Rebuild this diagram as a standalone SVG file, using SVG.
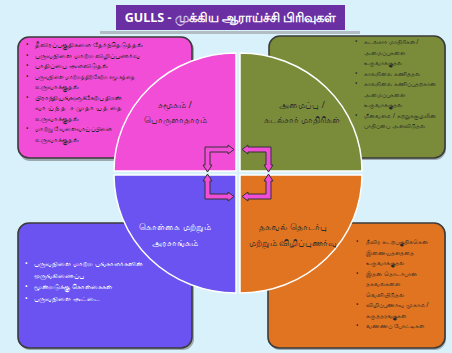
<svg xmlns="http://www.w3.org/2000/svg" width="452" height="353" viewBox="0 0 452 353">
<defs>
<style>
.bg{fill:#d8f1fb}
.box{stroke:#3b3b3b;stroke-width:1.6}
.sh{fill:#555;opacity:0.45}
.q{stroke:#fff;stroke-width:1.5}
.t{font-family:"Noto Sans","Liberation Sans",sans-serif;}
.bp text{font-size:6.6px;fill:#262626}
.bl text{font-size:6.3px;fill:#262626}
.bw text{font-size:7px;fill:#ffffff}
.ql{font-size:9px;text-anchor:middle;fill:#2b2b2b}
.qw{font-size:9px;text-anchor:middle;fill:#fff}
.arr{fill:#f04ed6;stroke:#333;stroke-width:1}
</style>
<polygon id="ar" class="arr" points="205,147 228,147 228,145 234,149.5 228,154 228,152 210,152 210,165 212,165 207.5,172 203,165 205,165"/>
</defs>
<rect class="bg" x="0" y="0" width="452" height="353"/>
<g id="title">
<rect x="100" y="31" width="260" height="3" fill="#8a8a8a" opacity="0.5"/>
<rect x="116" y="5" width="229" height="25" fill="#6a2fa2"/>
<text class="t" x="230.5" y="22" text-anchor="middle" font-size="12.5" font-weight="bold" fill="#fff">GULLS - முக்கிய ஆராய்ச்சி பிரிவுகள்</text>
</g>
<g id="box-social">
<rect class="sh" x="19" y="39" width="175" height="122" rx="11"/>
<rect class="box" x="18" y="37" width="174" height="121" rx="11" fill="#f24dd7"/>
<g class="t bp">
<text x="26" y="47">•</text><text x="35" y="47">தீவிரப்பகுதிகளை தேர்ந்தெடுத்தல்</text>
<text x="26" y="57.5">•</text><text x="35" y="57.5">பருவநிலை மாற்ற விழிப்புணர்வு</text>
<text x="26" y="68">•</text><text x="35" y="68">பாதிப்பை அளவிடுதல்</text>
<text x="26" y="78.5">•</text><text x="35" y="78.5" textLength="100" lengthAdjust="spacingAndGlyphs">பருவநிலை மாற்றத்திற்கேற்ற சமூகத்தை</text>
<text x="35" y="89">உருவாக்குதல்</text>
<text x="26" y="99.5">•</text><text x="35" y="99.5" textLength="87" lengthAdjust="spacing">பிராந்தியங்களுக்கேற்ப திறன்</text>
<text x="35" y="110" textLength="87" lengthAdjust="spacing">வாய்ந்த சமுதாயத்தை</text>
<text x="35" y="120.5">உருவாக்குதல்</text>
<text x="26" y="131">•</text><text x="35" y="131" textLength="77" lengthAdjust="spacingAndGlyphs">மாற்று வேலைவாய்ப்பினை</text>
<text x="35" y="141.5">உருவாக்குதல்</text>
</g>
</g>
<g id="box-model">
<rect class="sh" x="270" y="38" width="176" height="122" rx="11"/>
<rect class="box" x="269" y="36" width="176" height="122" rx="11" fill="#7a8c3a"/>
<g class="t bl">
<text x="355" y="44">•</text><text x="364" y="44">கடல்சார் மாதிரிகள் /</text>
<text x="364" y="54.5">அமைப்புகளை</text>
<text x="364" y="65">உருவாக்குதல்</text>
<text x="355" y="75.5">•</text><text x="364" y="75.5">காலநிலை கணித்தல்</text>
<text x="355" y="86">•</text><text x="364" y="86">காலநிலை கணிப்புதற்கான</text>
<text x="364" y="96.5">அமைப்புகளை</text>
<text x="364" y="107">உருவாக்குதல்</text>
<text x="355" y="117.5">•</text><text x="364" y="117.5">மீன்வளம் / சுற்றுச்சூழலின்</text>
<text x="364" y="128">பாதிப்பை அளவிடுதல்</text>
</g>
</g>
<g id="box-policy">
<rect class="sh" x="19" y="225" width="175" height="125" rx="11"/>
<rect class="box" x="18" y="223" width="174" height="125" rx="11" fill="#6a53f0"/>
<g class="t bw">
<text x="25" y="266">•</text><text x="34" y="266">பருவநிலை மாற்ற பங்காளர்களின்</text>
<text x="34" y="277.5">ஒருங்கிணைப்பு</text>
<text x="25" y="289">•</text><text x="34" y="289">மூன்றடுக்கு கொள்கைகள்</text>
<text x="25" y="300.5">•</text><text x="34" y="300.5">பருவநிலை அட்டை</text>
</g>
</g>
<g id="box-comm">
<rect class="sh" x="269" y="225" width="177" height="125" rx="11"/>
<rect class="box" x="268" y="223" width="177" height="125" rx="11" fill="#e07421"/>
<g class="t bl">
<text x="356" y="244">•</text><text x="366" y="244">தீவிர கடற்பகுதிக்கென</text>
<text x="366" y="254.5">இணையதளத்தை</text>
<text x="366" y="265">உருவாக்குதல்</text>
<text x="356" y="275.5">•</text><text x="366" y="275.5">இதன் தொடர்பான</text>
<text x="366" y="286">தகவல்களை</text>
<text x="366" y="296.5">வெளியிடுதல்</text>
<text x="356" y="307">•</text><text x="366" y="307">விழிப்புணர்வு முகாம் /</text>
<text x="366" y="317.5">கருத்தரங்குகள்</text>
<text x="356" y="328">•</text><text x="366" y="328">வண்ணப் போட்டிகள்</text>
</g>
</g>
<g id="q-social">
<path class="q" fill="#f24dd7" d="M236,171 L114,171 A122,118 0 0 1 236,53 Z"/>
<text class="t ql" x="175" y="108">சமூகம் /</text>
<text class="t ql" x="175" y="123">பொருளாதாரம்</text>
</g>
<g id="q-model">
<path class="q" fill="#7a8c3a" d="M240,171 L240,53 A122,118 0 0 1 362,171 Z"/>
<text class="t ql" x="302" y="108">அமைப்பு /</text>
<text class="t ql" x="302" y="123">கடல்சார் மாதிரிகள்</text>
</g>
<g id="q-policy">
<path class="q" fill="#6a53f0" d="M236,175 L236,293 A122,118 0 0 1 114,175 Z"/>
<text class="t qw" x="175" y="230">கொள்கை மற்றும்</text>
<text class="t qw" x="175" y="246">அரசாங்கம்</text>
</g>
<g id="q-comm">
<path class="q" fill="#e07421" d="M240,175 L362,175 A122,118 0 0 1 240,293 Z"/>
<text class="t ql" x="293" y="230">தகவல் தொடர்பு</text>
<text class="t ql" x="293" y="246">மற்றும் விழிப்புணர்வு</text>
</g>
<g id="connectors">
<use href="#ar"/>
<use href="#ar" transform="matrix(-1 0 0 1 476 0)"/>
<use href="#ar" transform="matrix(1 0 0 -1 0 346)"/>
<use href="#ar" transform="matrix(-1 0 0 -1 476 346)"/>
</g>
</svg>
